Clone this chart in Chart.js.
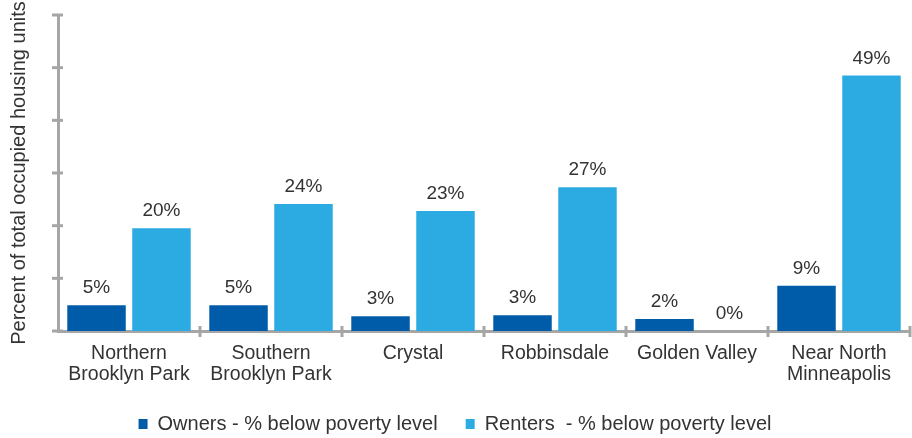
<!DOCTYPE html>
<html>
<head>
<meta charset="utf-8">
<script src="https://cdn.jsdelivr.net/npm/chart.js@4.4.1/dist/chart.umd.min.js"></script>
<style>
  html, body { margin: 0; padding: 0; background: #fff; }
  #wrap { width: 912px; height: 438px; }
</style>
</head>
<body>
<div id="wrap"><canvas id="chart"></canvas></div>
<script>
// data
const categories = [
  ["Northern", "Brooklyn Park"],
  ["Southern", "Brooklyn Park"],
  ["Crystal"],
  ["Robbinsdale"],
  ["Golden Valley"],
  ["Near North", "Minneapolis"]
];
const owners = [4.9, 4.9, 2.8, 3.0, 2.3, 8.6];
const renters = [19.5, 24.1, 22.8, 27.3, 0, 48.5];
const ownersLabel = "Owners - % below poverty level";
const rentersLabel = "Renters  - % below poverty level";
const yTitle = "Percent of total occupied housing units";

const axisGray = "#A6A6A6";
const textColor = "#333333";
const fontFamily = "'Liberation Sans', Arial, sans-serif";

// crossing tick marks on both axes
const tickMarks = {
  id: "tickMarks",
  afterDraw(chart) {
    const c = chart.ctx;
    const y = chart.scales.y, x = chart.scales.x;
    c.save();
    c.strokeStyle = axisGray;
    c.lineWidth = 3;
    y.ticks.forEach((t, i) => {
      const py = y.getPixelForTick(i);
      c.beginPath();
      c.moveTo(y.right - 6, py);
      c.lineTo(y.right + 5, py);
      c.stroke();
    });
    const n = x.ticks.length;
    for (let i = 1; i <= n; i++) {
      const px = i < n
        ? (x.getPixelForTick(i - 1) + x.getPixelForTick(i)) / 2
        : x.right;
      c.beginPath();
      c.moveTo(px, x.top - 5);
      c.lineTo(px, x.top + 6);
      c.stroke();
    }
    c.restore();
  }
};

// value labels above bars
const barLabels = {
  id: "barLabels",
  afterDatasetsDraw(chart) {
    const c = chart.ctx;
    c.save();
    c.font = "19px " + fontFamily;
    c.fillStyle = textColor;
    c.textAlign = "center";
    c.textBaseline = "alphabetic";
    chart.data.datasets.forEach((ds, di) => {
      chart.getDatasetMeta(di).data.forEach((bar, i) => {
        c.fillText(Math.round(ds.data[i]) + "%", bar.x, bar.y - 12);
      });
    });
    c.restore();
  }
};

new Chart(document.getElementById("chart"), {
  type: "bar",
  data: {
    labels: categories,
    datasets: [
      {
        label: ownersLabel,
        data: owners,
        backgroundColor: "#005BA8",
        borderWidth: 0,
        categoryPercentage: 0.915,
        barPercentage: 0.9
      },
      {
        label: rentersLabel,
        data: renters,
        backgroundColor: "#2CABE2",
        borderWidth: 0,
        categoryPercentage: 0.915,
        barPercentage: 0.9
      }
    ]
  },
  options: {
    responsive: true,
    maintainAspectRatio: false,
    animation: false,
    layout: { padding: { top: 15, right: 2, left: 0, bottom: -6 } },
    plugins: {
      tooltip: { enabled: false },
      legend: {
        position: "bottom",
        labels: {
          boxWidth: 9,
          boxHeight: 10,
          padding: 28,
          color: textColor,
          font: { family: fontFamily, size: 20 }
        }
      }
    },
    scales: {
      x: {
        grid: { display: false },
        border: { display: true, color: axisGray, width: 3 },
        ticks: {
          color: textColor,
          padding: 4,
          maxRotation: 0,
          autoSkip: false,
          font: { family: fontFamily, size: 19.5, lineHeight: 1.08 }
        },
        afterFit(scale) { scale.height = 55; }
      },
      y: {
        min: 0,
        max: 60,
        grid: { display: false },
        border: { display: true, color: axisGray, width: 3 },
        ticks: { display: false, stepSize: 10 },
        title: {
          display: true,
          text: yTitle,
          color: textColor,
          padding: { top: 7, bottom: 0 },
          font: { family: fontFamily, size: 20 }
        },
        afterFit(scale) { scale.width = 58; }
      }
    }
  },
  plugins: [tickMarks, barLabels]
});
</script>
</body>
</html>
